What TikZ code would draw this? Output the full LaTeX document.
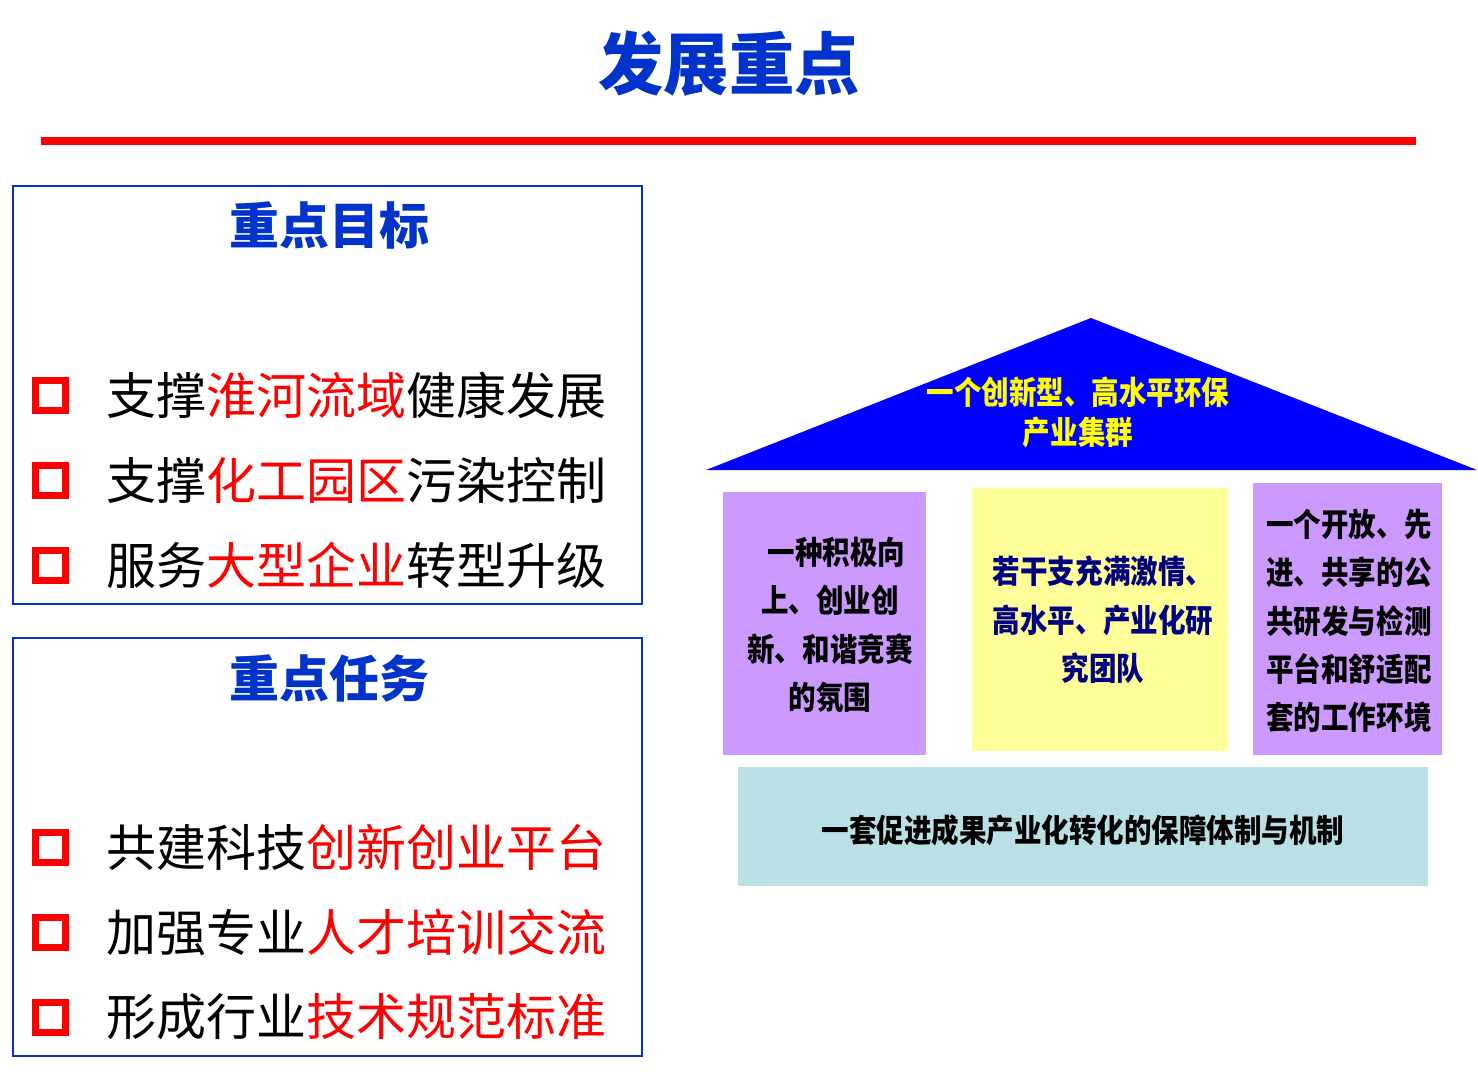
\documentclass[tikz,border=0pt]{standalone}
\usepackage{fontspec}
\setmainfont{Noto Sans CJK SC}
\newfontfamily\condfont[FakeStretch=0.86]{Noto Sans CJK SC}
\newfontfamily\titlefont[FakeStretch=0.96]{Noto Sans CJK SC}
\definecolor{titleblue}{RGB}{0,51,204}
\definecolor{roofblue}{RGB}{0,0,255}
\definecolor{roofyellow}{RGB}{255,255,0}
\definecolor{lilac}{RGB}{204,153,255}
\definecolor{paleyellow}{RGB}{255,255,153}
\definecolor{paleteal}{RGB}{185,224,228}
\definecolor{navytext}{RGB}{0,0,128}
\definecolor{pured}{RGB}{255,0,0}
\tikzset{
  panel/.style={draw=titleblue, line width=1pt},
  heading/.style={inner sep=0pt, text=titleblue, font=\bfseries\fontsize{25}{30}\selectfont},
  bulletbox/.style={draw=pured, line width=3.5pt, minimum size=15pt, inner sep=0pt},
  item/.style={anchor=west, inner sep=0pt, text=black, font=\fontsize{25}{30}\selectfont},
  pillartext/.style={inner sep=0pt, font=\condfont\bfseries\fontsize{16}{24.2}\selectfont},
}
\begin{document}
\begin{tikzpicture}[x=0.5pt,y=-0.5pt]
\useasboundingbox (0,0) rectangle (1478,1075);
\fill[white] (0,0) rectangle (1478,1075);

% title and rule
\node[inner sep=0pt, text=titleblue, font=\titlefont\bfseries\fontsize{34}{40}\selectfont] (title) at (729,64) {发展重点};
\fill[pured] (41,137) rectangle (1416,145);

% panel 1
\draw[panel] (13,186) rectangle (642,604);
\node[heading] (h1) at (329,225) {重点目标};
\node[bulletbox] (b1) at (50.5,395) {};
\node[bulletbox] (b2) at (50.5,480) {};
\node[bulletbox] (b3) at (50.5,565) {};
\node[item] (t1) at (106,395) {支撑\textcolor{pured}{淮河流域}健康发展};
\node[item] (t2) at (106,480) {支撑\textcolor{pured}{化工园区}污染控制};
\node[item] (t3) at (106,565) {服务\textcolor{pured}{大型企业}转型升级};

% panel 2
\draw[panel] (13,638) rectangle (642,1056);
\node[heading] (h2) at (329,678) {重点任务};
\node[bulletbox] (b4) at (50.5,847) {};
\node[bulletbox] (b5) at (50.5,932) {};
\node[bulletbox] (b6) at (50.5,1017) {};
\node[item] (t4) at (106,847) {共建科技\textcolor{pured}{创新创业平台}};
\node[item] (t5) at (106,932) {加强专业\textcolor{pured}{人才培训交流}};
\node[item] (t6) at (106,1017) {形成行业\textcolor{pured}{技术规范标准}};

% house: roof
\fill[roofblue] (706,470) -- (1091,318) -- (1477,470) -- cycle;
\node[pillartext, text=roofyellow, align=center, font=\condfont\bfseries\fontsize{16}{20}\selectfont] (roof) at (1078,412) {一个创新型、高水平环保\\产业集群};

% pillars
\fill[lilac] (723,492) rectangle (926,755);
\node[pillartext, text=black, align=center] (p1) at (830,625) {\hspace*{6.5pt}一种积极向\\上、创业创\\新、和谐竞赛\\的氛围};

\fill[paleyellow] (972,488) rectangle (1228,751);
\node[pillartext, text=navytext, align=center] (p2) at (1103,620) {若干支充满激情、\\高水平、产业化研\\究团队};

\fill[lilac] (1253,483) rectangle (1442,755);
\node[pillartext, text=black, align=left, anchor=west] (p3) at (1266,621) {一个开放、先\\进、共享的公\\共研发与检测\\平台和舒适配\\套的工作环境};

% foundation
\fill[paleteal] (738,767) rectangle (1428,886);
\node[pillartext, text=black] (base) at (1083,830) {一套促进成果产业化转化的保障体制与机制};
\end{tikzpicture}
\end{document}
